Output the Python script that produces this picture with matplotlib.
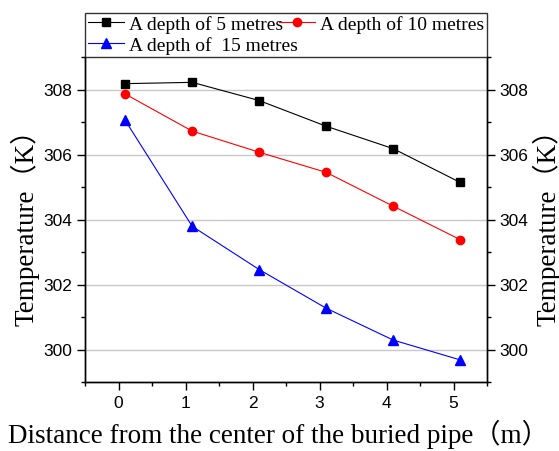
import numpy as np
import matplotlib
matplotlib.use("Agg")
import matplotlib.pyplot as plt
from matplotlib.ticker import MultipleLocator

# distance from pipe centre (m) and soil temperature (K) at three depths
distance = [0.1, 1.1, 2.1, 3.1, 4.1, 5.1]
temp_5m = [308.18, 308.22, 307.66, 306.87, 306.18, 305.14]
temp_10m = [307.86, 306.72, 306.07, 305.45, 304.41, 303.38]
temp_15m = [307.05, 303.79, 302.46, 301.27, 300.29, 299.68]

sans = ["Liberation Sans", "DejaVu Sans"]
serif = ["Liberation Serif", "Noto Sans CJK SC", "DejaVu Sans"]

W, H = 559, 452
fig = plt.figure(figsize=(W / 100, H / 100), dpi=100)
ax = fig.add_axes([85 / W, 1 - 383 / H, 402 / W, 325 / H])

l5, = ax.plot(distance, temp_5m, color="black", marker="s", ms=6, lw=0.8,
              label="A depth of 5 metres")
l10, = ax.plot(distance, temp_10m, color="red", marker="o", ms=6, lw=0.8,
               label="A depth of 10 metres")
l15, = ax.plot(distance, temp_15m, color="blue", marker="^", ms=6.5, lw=0.8,
               label="A depth of  15 metres")

ax.set_xlim(-0.5, 5.5)
ax.set_ylim(299, 309)
ax.xaxis.set_major_locator(MultipleLocator(1))
ax.xaxis.set_minor_locator(MultipleLocator(0.5))
ax.yaxis.set_major_locator(MultipleLocator(2))
ax.yaxis.set_minor_locator(MultipleLocator(1))
ax.grid(axis="y", which="major", color="#c8c8c8", lw=1)
ax.set_axisbelow(True)
ax.tick_params(which="both", direction="out", width=1, labelsize=12.5, pad=3)
ax.tick_params(which="major", length=6)
ax.tick_params(which="minor", length=3)
for lab in ax.get_xticklabels() + ax.get_yticklabels():
    lab.set_family(sans)
for sp in ax.spines.values():
    sp.set_linewidth(1)
ax.spines["top"].set_visible(False)

ax.set_xlabel("Distance from the center of the buried pipe（m）",
              family=serif, fontsize=19.5)
ax.xaxis.set_label_coords(0.48, -0.112)
ax.set_ylabel("Temperature（K）", family=serif, fontsize=19.5, labelpad=3)

# mirrored temperature axis on the right
ax2 = ax.twinx()
ax2.set_ylim(ax.get_ylim())
ax2.yaxis.set_major_locator(MultipleLocator(2))
ax2.yaxis.set_minor_locator(MultipleLocator(1))
ax2.tick_params(which="both", direction="out", width=1, labelsize=12.5, pad=3)
ax2.tick_params(which="major", length=6)
ax2.tick_params(which="minor", length=3)
for lab in ax2.get_yticklabels():
    lab.set_family(sans)
for sp in ax2.spines.values():
    sp.set_linewidth(1)
ax2.spines["top"].set_visible(False)
ax2.set_ylabel("Temperature（K）", family=serif, fontsize=19.5)
ax2.yaxis.set_label_coords(1.112, 0.5)

leg = ax2.legend([l5, l15, l10], [l5.get_label(), l15.get_label(), l10.get_label()],
                 loc="lower left", bbox_to_anchor=(0, 1, 1, 49 / 325), mode="expand",
                 ncol=2, borderaxespad=0, fancybox=False, handlelength=1.85,
                 handletextpad=0.26, columnspacing=0.4, borderpad=0.15,
                 labelspacing=0.15, prop={"family": serif, "size": 14})
leg.get_frame().set_edgecolor("black")
leg.get_frame().set_linewidth(1)

fig.savefig("out.png", dpi=100)
